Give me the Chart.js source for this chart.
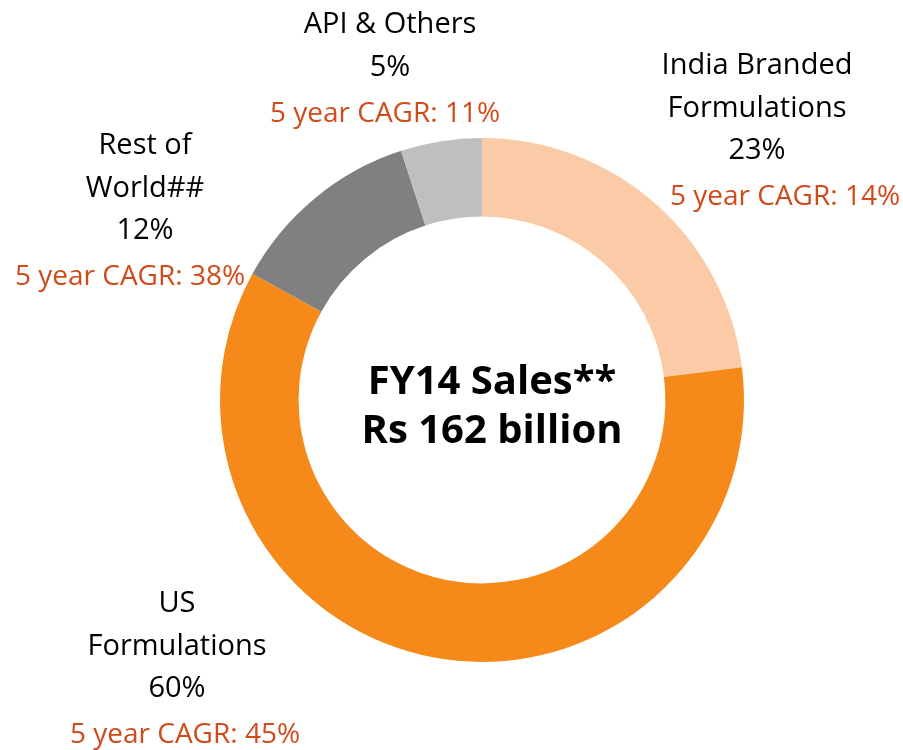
<!DOCTYPE html>
<html>
<head>
<meta charset="utf-8">
<script src="https://cdn.jsdelivr.net/npm/chart.js@4/dist/chart.umd.min.js"></script>
<style>
html,body{margin:0;padding:0;background:#fff;}
#wrap{width:903px;height:750px;position:relative;}
</style>
</head>
<body>
<div id="wrap"><canvas id="c" width="903" height="750"></canvas></div>
<script>
const categories = ["India Branded Formulations", "US Formulations", "Rest of World##", "API & Others"];
const shares = [23, 60, 12, 5];
const cagr = [14, 45, 38, 11];
const labelLines = [["India Branded", "Formulations"], ["US", "Formulations"], ["Rest of", "World##"], ["API & Others"]];
const colors = ["#FACBA6", "#F5891A", "#808080", "#BFBFBF"];
const centerLines = ["FY14 Sales**", "Rs 162 billion"];

// label anchor positions (layout only)
const labelPos = [
  {x: 757, y: 66, cx: 785},
  {x: 177, y: 604, cx: 185},
  {x: 145, y: 146, cx: 130},
  {x: 390, y: 25, cx: 385}
];
const lineH = 42.5;

const labelPlugin = {
  id: 'labels',
  afterDraw(chart) {
    const ctx = chart.ctx;
    ctx.save();
    ctx.textAlign = 'center';
    ctx.textBaseline = 'middle';
    categories.forEach((c, i) => {
      const p = labelPos[i];
      let y = p.y;
      ctx.font = '29px "Open Sans", sans-serif';
      ctx.fillStyle = '#000';
      labelLines[i].forEach(t => { ctx.fillText(t, p.x, y); y += lineH; });
      ctx.fillText(shares[i] + '%', p.x, y);
      y += lineH + 4;
      ctx.font = '28px "Open Sans", sans-serif';
      ctx.fillStyle = '#D04A1A';
      ctx.fillText('5 year CAGR: ' + cagr[i] + '%', p.cx, y);
    });
    const meta = chart.getDatasetMeta(0).data[0];
    const cx = meta.x + 10, cy = meta.y;
    ctx.fillStyle = '#000';
    ctx.font = 'bold 40px "Open Sans", sans-serif';
    ctx.fillText(centerLines[0], cx, cy - 17);
    ctx.fillText(centerLines[1], cx, cy + 32);
    ctx.restore();
  }
};

new Chart(document.getElementById('c'), {
  type: 'doughnut',
  data: {
    labels: categories,
    datasets: [{ data: shares, backgroundColor: colors, borderWidth: 0 }]
  },
  options: {
    responsive: false,
    animation: false,
    cutout: '70%',
    layout: { padding: { left: 220, right: 159, top: 138, bottom: 88 } },
    plugins: { legend: { display: false }, tooltip: { enabled: false } }
  },
  plugins: [labelPlugin]
});
</script>
</body>
</html>
